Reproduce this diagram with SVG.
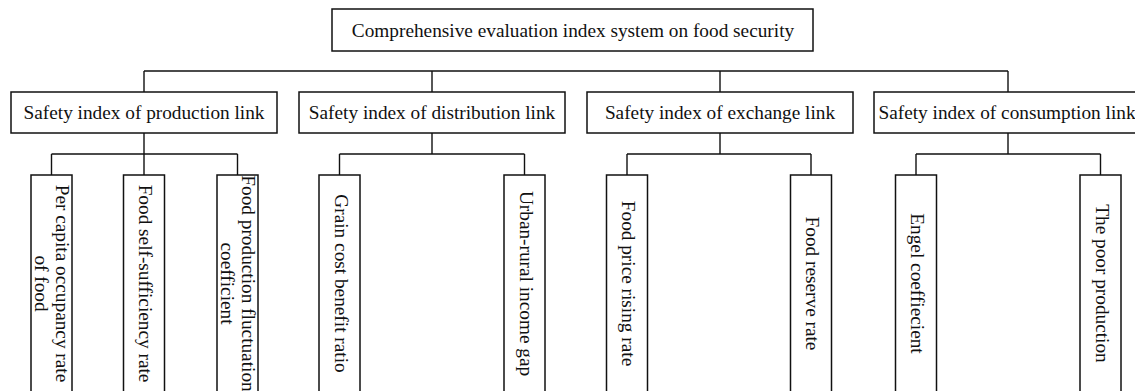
<svg xmlns="http://www.w3.org/2000/svg" width="1135" height="391" viewBox="0 0 1135 391">
<style>
.box{fill:#fff;stroke:#111;stroke-width:1.5}
.ln{fill:none;stroke:#111;stroke-width:1.4}
text{font-family:"Liberation Serif","Times New Roman",serif;font-size:19.3px;fill:#111;text-anchor:middle}
</style>
<rect width="1135" height="391" fill="#fff"/>
<g id="connectors">
<path class="ln" d="M144 71H1008M144 71V92M432 71V92M720 71V92M1008 71V92"/>
<path class="ln" d="M144 133V154M51.5 154H237.5M51.5 154V175M144 154V175M237.5 154V175"/>
<path class="ln" d="M432 133V154M339.5 154H524.5M339.5 154V175M524.5 154V175"/>
<path class="ln" d="M720 133V154M627 154H811M627 154V175M811 154V175"/>
<path class="ln" d="M1008 133V154M916 154H1100.5M916 154V175M1100.5 154V175"/>
</g>
<g id="root"><rect class="box" x="332" y="9" width="481" height="42"/><text x="573" y="36.5">Comprehensive evaluation index system on food security</text></g>
<g id="production"><rect class="box" x="11" y="92" width="266" height="41"/><text x="144" y="118.5">Safety index of production link</text></g>
<g id="distribution"><rect class="box" x="299" y="92" width="266" height="41"/><text x="432" y="118.5">Safety index of distribution link</text></g>
<g id="exchange"><rect class="box" x="587" y="92" width="266" height="41"/><text x="720" y="118.5">Safety index of exchange link</text></g>
<g id="consumption"><rect class="box" x="874" y="92" width="268" height="41"/><text x="1007" y="118.5">Safety index of consumption link</text></g>
<g id="c1"><rect class="box" x="31" y="175" width="41" height="230"/><text transform="translate(51.5,283.5) rotate(90)"><tspan x="0" y="-4.4">Per capita occupancy rate</tspan><tspan x="0" y="16.4">of food</tspan></text></g>
<g id="c2"><rect class="box" x="123.5" y="175" width="41" height="230"/><text transform="translate(144,283.5) rotate(90)" y="5">Food self-sufficiency rate</text></g>
<g id="c3"><rect class="box" x="217" y="175" width="41" height="230"/><text transform="translate(237.5,283.5) rotate(90)"><tspan x="0" y="-4.4">Food production fluctuation</tspan><tspan x="0" y="16.4">coefficient</tspan></text></g>
<g id="c4"><rect class="box" x="319" y="175" width="41" height="230"/><text transform="translate(339.5,283.5) rotate(90)" y="5">Grain cost benefit ratio</text></g>
<g id="c5"><rect class="box" x="504" y="175" width="41" height="230"/><text transform="translate(524.5,283.5) rotate(90)" y="5">Urban-rural income gap</text></g>
<g id="c6"><rect class="box" x="606.5" y="175" width="41" height="230"/><text transform="translate(627,283.5) rotate(90)" y="5">Food price rising rate</text></g>
<g id="c7"><rect class="box" x="790.5" y="175" width="41" height="230"/><text transform="translate(811,283.5) rotate(90)" y="5">Food reserve rate</text></g>
<g id="c8"><rect class="box" x="895.5" y="175" width="41" height="230"/><text transform="translate(916,283.5) rotate(90)" y="5">Engel coeffiecient</text></g>
<g id="c9"><rect class="box" x="1080" y="175" width="41" height="230"/><text transform="translate(1100.5,283.5) rotate(90)" y="5">The poor production</text></g>
</svg>
